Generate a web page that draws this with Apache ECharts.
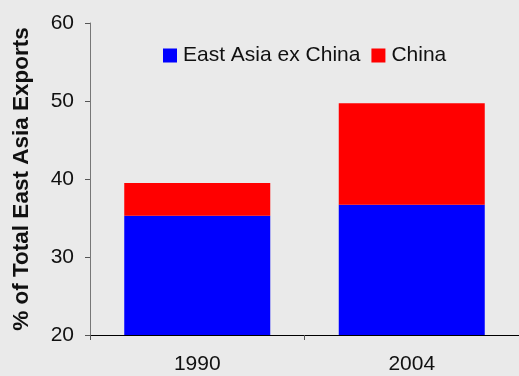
<!DOCTYPE html>
<html>
<head>
<meta charset="utf-8">
<script src="https://cdn.jsdelivr.net/npm/echarts@6/dist/echarts.min.js"></script>
<style>
html,body{margin:0;padding:0;background:#EAEAEA;}
#c{width:519px;height:376px;}
</style>
</head>
<body>
<div id="c"></div>
<script>
const categories = ['1990', '2004'];
const eastAsiaExChina = [35.3, 36.7];
const china = [4.2, 13.0];
const yTicks = [20, 30, 40, 50, 60];

const chart = echarts.init(document.getElementById('c'), null, {renderer: 'canvas'});
const font = 'Liberation Sans, Arial, sans-serif';
chart.setOption({
  backgroundColor: '#EAEAEA',
  animation: false,
  textStyle: {fontFamily: font},
  legend: {
    left: 158, top: 40,
    itemWidth: 14, itemHeight: 14, itemGap: 11,
    icon: 'rect',
    textStyle: {fontSize: 21, color: '#111', fontFamily: font, padding: [0, 0, 0, 1]},
    data: ['East Asia ex China', 'China']
  },
  grid: {left: 90, top: 23, width: 433, height: 312, containLabel: false},
  xAxis: {
    type: 'category',
    data: categories,
    boundaryGap: true,
    axisLine: {lineStyle: {color: '#000', width: 1}},
    axisTick: {show: true, length: 5, lineStyle: {color: '#555'}},
    axisLabel: {fontSize: 21, color: '#111', margin: 19, fontFamily: font}
  },
  yAxis: {
    type: 'value',
    min: yTicks[0], max: yTicks[yTicks.length - 1], interval: 10,
    name: '% of Total East Asia Exports',
    nameLocation: 'middle',
    nameGap: 57,
    nameTextStyle: {fontSize: 22.5, fontWeight: 'bold', color: '#111', fontFamily: font},
    axisLine: {show: true, lineStyle: {color: '#777', width: 1}},
    axisTick: {show: true, length: 5, lineStyle: {color: '#555'}},
    splitLine: {show: false},
    axisLabel: {fontSize: 21, color: '#111', margin: 16, fontFamily: font}
  },
  series: [
    {name: 'East Asia ex China', type: 'bar', stack: 's', data: eastAsiaExChina,
     barWidth: 146, itemStyle: {color: '#0000FF'}},
    {name: 'China', type: 'bar', stack: 's', data: china,
     barWidth: 146, itemStyle: {color: '#FF0000'}}
  ]
});
</script>
</body>
</html>
